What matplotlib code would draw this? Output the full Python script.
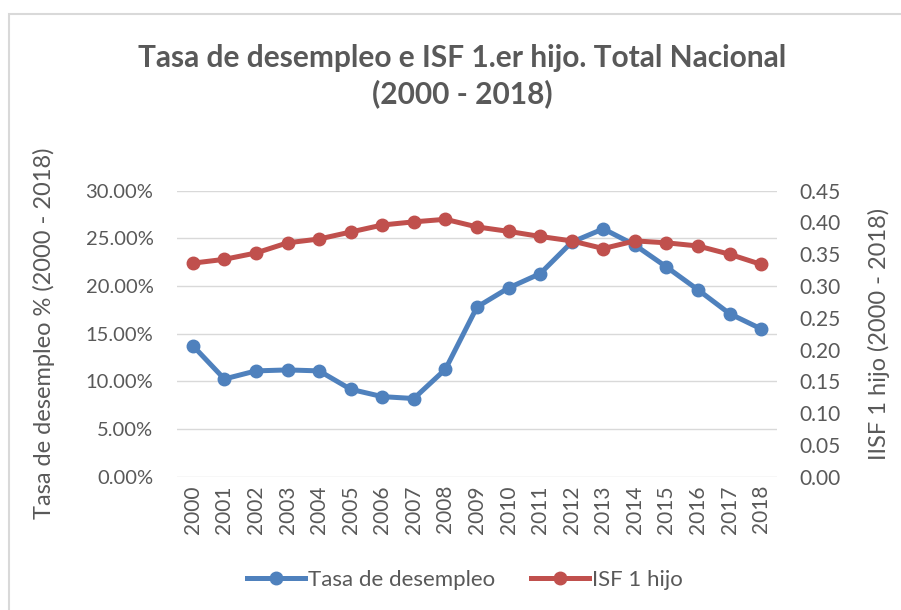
import numpy as np
import matplotlib.pyplot as plt
from matplotlib.ticker import PercentFormatter, FormatStrFormatter, MultipleLocator
from matplotlib.patches import Rectangle

plt.rcParams['font.family'] = ['Lato', 'DejaVu Sans']

years = [str(y) for y in range(2000, 2019)]
desempleo = [13.75, 10.25, 11.1, 11.2, 11.1, 9.17, 8.4, 8.2, 11.27, 17.8,
             19.8, 21.3, 24.6, 26.0, 24.3, 22.0, 19.6, 17.1, 15.5]
isf = [0.336, 0.342, 0.352, 0.368, 0.374, 0.385, 0.396, 0.401, 0.405, 0.393,
       0.386, 0.378, 0.371, 0.359, 0.371, 0.368, 0.363, 0.350, 0.334]

txt = '#595959'
blue = '#4F81BD'
red = '#C0504D'
grid = '#D9D9D9'

W, H = 901, 610
fig = plt.figure(figsize=(W/100, H/100), dpi=100)
L, R, T, B = 177, 777, 190.7, 476.7
ax = fig.add_axes([L/W, 1-B/H, (R-L)/W, (B-T)/H])
ax2 = ax.twinx()

x = np.arange(len(years))
l1, = ax.plot(x, desempleo, color=blue, lw=3.6, marker='o', ms=9, label='Tasa de desempleo')
l2, = ax2.plot(x, isf, color=red, lw=3.6, marker='o', ms=9, label='ISF 1 hijo')

ax.set_xlim(-0.5, len(years)-0.5)
ax.set_ylim(0, 30)
ax2.set_ylim(0, 0.45)
ax.yaxis.set_major_locator(MultipleLocator(5))
ax.yaxis.set_major_formatter(PercentFormatter(xmax=100, decimals=2))
ax2.yaxis.set_major_locator(MultipleLocator(0.05))
ax2.yaxis.set_major_formatter(FormatStrFormatter('%.2f'))
ax.set_xticks(x)
ax.set_xticklabels(years, rotation=90)

ax.grid(axis='y', color=grid, lw=1)
ax.set_axisbelow(True)
for a in (ax, ax2):
    for s in a.spines.values():
        s.set_visible(False)
ax.tick_params(axis='y', length=0, pad=17, labelsize=14.5, labelcolor=txt)
ax.tick_params(axis='x', length=0, pad=6, labelsize=15, labelcolor=txt)
ax2.tick_params(axis='y', length=0, pad=16, labelsize=15, labelcolor=txt)

ax.set_ylabel('Tasa de desempleo % (2000 - 2018)', fontsize=17, color=txt)
ax.yaxis.set_label_coords((55-L)/(R-L), 0.5)
ax2.set_ylabel('IISF 1 hijo (2000 - 2018)', fontsize=17, color=txt, rotation=90)
ax2.yaxis.set_label_coords((868-L)/(R-L), 0.5)

fig.text(462/W, 1-76/H, 'Tasa de desempleo e ISF 1.er hijo. Total Nacional\n(2000 - 2018)',
         ha='center', va='center', fontsize=21.5, fontweight='bold', color=txt,
         linespacing=1.3)

fig.legend(handles=[l1, l2], loc='center', bbox_to_anchor=(465/W, 1-580/H), ncol=2,
           frameon=False, fontsize=16, labelcolor=txt, handlelength=2.6,
           handletextpad=0.15, columnspacing=1.6)

fig.patches.append(Rectangle((9/W, -0.1), 1.2, 1.1-14/H, transform=fig.transFigure,
                             fill=False, ec=grid, lw=1.5))

fig.savefig('out.png', dpi=100)
